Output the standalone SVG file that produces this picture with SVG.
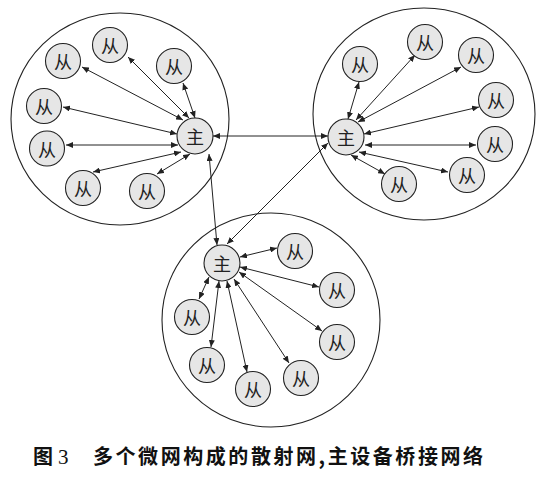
<svg xmlns="http://www.w3.org/2000/svg" width="546" height="484" viewBox="0 0 546 484">
<defs>
<marker id="ah" viewBox="0 0 7 6" refX="7" refY="3" markerWidth="7" markerHeight="6" markerUnits="userSpaceOnUse" orient="auto-start-reverse">
<path d="M0,0 L7,3 L0,6 z" fill="#222"/>
</marker>
</defs>
<style>
.net{fill:none;stroke:#222;stroke-width:1.1}
.n{fill:#e6e6e6;stroke:#222;stroke-width:1.1}
.t{font-family:"Noto Sans CJK SC","Noto Sans CJK JP",sans-serif;font-size:18px;fill:#222;text-anchor:middle;dominant-baseline:central}
.c line{stroke:#222;stroke-width:1;marker-start:url(#ah);marker-end:url(#ah)}
.cap{font-family:"Noto Sans CJK SC",sans-serif;font-size:20px;font-weight:bold;fill:#111}
.num{font-family:"Liberation Serif",serif;font-size:21px;fill:#111}
</style>
<rect width="546" height="484" fill="#fff"/>
<g id="nets">
<ellipse class="net" cx="120" cy="119" rx="109" ry="106"/>
<ellipse class="net" cx="424" cy="114" rx="111" ry="106"/>
<ellipse class="net" cx="271" cy="320" rx="109" ry="107"/>
</g>
<g id="connectors" class="c">
<line x1="128" y1="57" x2="189" y2="118"/>
<line x1="82" y1="67" x2="183" y2="120"/>
<line x1="183" y1="83" x2="195" y2="118"/>
<line x1="63" y1="107" x2="177" y2="134"/>
<line x1="66" y1="145" x2="178" y2="145"/>
<line x1="93" y1="172" x2="181" y2="152"/>
<line x1="157" y1="174" x2="190" y2="154"/>
<line x1="213" y1="136" x2="328" y2="136"/>
<line x1="209" y1="154" x2="217" y2="245"/>
<line x1="328" y1="143" x2="227" y2="244"/>
<line x1="359" y1="82" x2="348" y2="119"/>
<line x1="415" y1="55" x2="356" y2="120"/>
<line x1="461" y1="67" x2="358" y2="122"/>
<line x1="479" y1="107" x2="364" y2="134"/>
<line x1="476" y1="145" x2="365" y2="145"/>
<line x1="448" y1="172" x2="359" y2="152"/>
<line x1="385" y1="174" x2="351" y2="155"/>
<line x1="277" y1="248" x2="240" y2="257"/>
<line x1="319" y1="287" x2="240" y2="267"/>
<line x1="322" y1="331" x2="239" y2="272"/>
<line x1="289" y1="363" x2="234" y2="279"/>
<line x1="247" y1="372" x2="227" y2="281"/>
<line x1="211" y1="347" x2="219" y2="281"/>
<line x1="199" y1="299" x2="209" y2="277"/>
</g>
<g id="m1"><circle class="n" cx="195" cy="136" r="18"/><text class="t" x="195" y="136">主</text></g>
<g id="m2"><circle class="n" cx="346" cy="137" r="18"/><text class="t" x="346" y="137">主</text></g>
<g id="m3"><circle class="n" cx="222" cy="263" r="18"/><text class="t" x="222" y="263">主</text></g>
<g id="s1a"><circle class="n" cx="110" cy="45" r="17.5"/><text class="t" x="110" y="45">从</text></g>
<g id="s1b"><circle class="n" cx="63" cy="61" r="17.5"/><text class="t" x="63" y="61">从</text></g>
<g id="s1c"><circle class="n" cx="174" cy="66" r="17.5"/><text class="t" x="174" y="66">从</text></g>
<g id="s1d"><circle class="n" cx="44" cy="106" r="17.5"/><text class="t" x="44" y="106">从</text></g>
<g id="s1e"><circle class="n" cx="47" cy="148.5" r="17.5"/><text class="t" x="47" y="148.5">从</text></g>
<g id="s1f"><circle class="n" cx="83" cy="188" r="17.5"/><text class="t" x="83" y="188">从</text></g>
<g id="s1g"><circle class="n" cx="147" cy="191" r="17.5"/><text class="t" x="147" y="191">从</text></g>
<g id="s2a"><circle class="n" cx="360" cy="64" r="17.5"/><text class="t" x="360" y="64">从</text></g>
<g id="s2b"><circle class="n" cx="425" cy="42" r="17.5"/><text class="t" x="425" y="42">从</text></g>
<g id="s2c"><circle class="n" cx="476" cy="55" r="17.5"/><text class="t" x="476" y="55">从</text></g>
<g id="s2d"><circle class="n" cx="496" cy="100" r="17.5"/><text class="t" x="496" y="100">从</text></g>
<g id="s2e"><circle class="n" cx="495" cy="144" r="17.5"/><text class="t" x="495" y="144">从</text></g>
<g id="s2f"><circle class="n" cx="467" cy="175" r="17.5"/><text class="t" x="467" y="175">从</text></g>
<g id="s2g"><circle class="n" cx="399" cy="184" r="17.5"/><text class="t" x="399" y="184">从</text></g>
<g id="s3a"><circle class="n" cx="295" cy="251" r="17.5"/><text class="t" x="295" y="251">从</text></g>
<g id="s3b"><circle class="n" cx="337" cy="290" r="17.5"/><text class="t" x="337" y="290">从</text></g>
<g id="s3c"><circle class="n" cx="337" cy="342" r="17.5"/><text class="t" x="337" y="342">从</text></g>
<g id="s3d"><circle class="n" cx="301" cy="378" r="17.5"/><text class="t" x="301" y="378">从</text></g>
<g id="s3e"><circle class="n" cx="253" cy="389" r="17.5"/><text class="t" x="253" y="389">从</text></g>
<g id="s3f"><circle class="n" cx="207" cy="365" r="17.5"/><text class="t" x="207" y="365">从</text></g>
<g id="s3g"><circle class="n" cx="192" cy="317" r="17.5"/><text class="t" x="192" y="317">从</text></g>
<g id="caption">
<text class="cap" x="33" y="464">图</text>
<text class="num" x="58" y="464">3</text>
<text class="cap" x="93" y="464" textLength="390" lengthAdjust="spacing">多个微网构成的散射网,主设备桥接网络</text>
</g>
</svg>
